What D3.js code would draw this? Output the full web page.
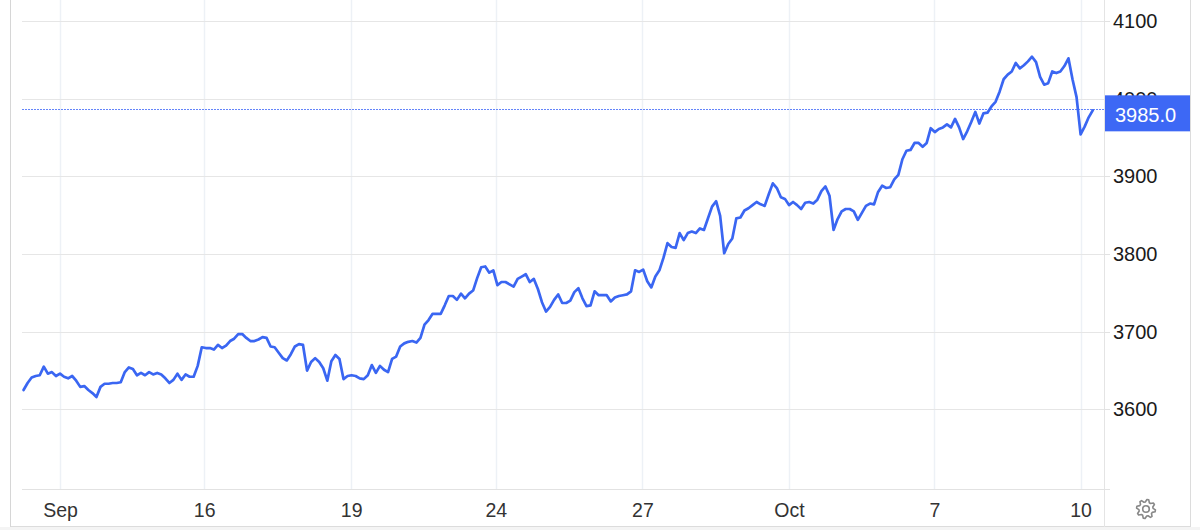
<!DOCTYPE html>
<html><head><meta charset="utf-8">
<script src="https://cdn.jsdelivr.net/npm/d3@7"></script>
<style>
html,body{margin:0;padding:0;background:#fff;}
svg{display:block;font-family:"Liberation Sans",Arial,Helvetica,sans-serif;}
</style>
</head><body>
<svg id="chart" width="1200" height="530"></svg>
<script>
// ---- data (sample index: equal-time samples, 36 per axis interval) ----
const startIndex = -9;
const prices = [
  3625,3634,3641,3643,3644,3655,3646,3648,3643,
  3646,3642,3640,3643,3637,3629,3630,3625,3621,3616,
  3629,3633,3633,3634,3634,3635,3648,3654,3652,3644,
  3647,3644,3648,3645,3647,3645,3640,3634,3638,3646,
  3638,3645,3642,3642,3656,3680,3679,3679,3677,3683,
  3679,3682,3688,3691,3697,3697,3692,3688,3688,3690,
  3693,3692,3681,3680,3673,3666,3663,3671,3681,3684,
  3683,3650,3661,3666,3661,3653,3637,3662,3670,3665,
  3639,3643,3644,3643,3640,3639,3644,3657,3647,3656,
  3651,3648,3665,3668,3681,3685,3687,3688,3686,3692,
  3709,3715,3723,3723,3723,3734,3746,3746,3741,3749,
  3743,3749,3753,3769,3783,3784,3776,3779,3760,3764,
  3764,3761,3758,3768,3771,3774,3764,3768,3755,3738,
  3726,3732,3741,3748,3737,3737,3740,3751,3756,3743,
  3733,3734,3752,3747,3747,3747,3739,3744,3746,3747,
  3748,3752,3779,3777,3780,3765,3757,3771,3779,3795,
  3814,3809,3808,3827,3818,3827,3829,3827,3833,3831,
  3846,3861,3868,3849,3801,3813,3820,3846,3847,3856,
  3859,3863,3867,3864,3862,3877,3891,3885,3873,3871,
  3863,3867,3863,3858,3866,3867,3865,3870,3881,3887,
  3875,3831,3845,3855,3858,3858,3855,3844,3853,3862,
  3865,3864,3880,3888,3885,3886,3896,3902,3922,3933,
  3934,3943,3943,3938,3943,3962,3957,3961,3963,3967,
  3963,3974,3963,3948,3958,3970,3983,3968,3981,3982,
  3990,3996,4009,4025,4031,4035,4046,4039,4043,4048,
  4054,4047,4028,4018,4020,4035,4033,4035,4042,4052,
  4025,4002,3954,3964,3976,3985
];
const tickPositions = [0, 35.6, 71.9, 107.6, 143.8, 180, 215.9, 252];
const tickLabels = ["Sep","16","19","24","27","Oct","7","10"];
const yTicks = [3600, 3700, 3800, 3900, 4000, 4100];
const lastPrice = 3985.0;

// ---- layout ----
const plotLeft = 22, axisX = 1104, plotBottom = 489, rightEdge = 1190;
const x = d3.scaleLinear().domain([0, 252]).range([60, 1080.6]);
const y = d3.scaleLinear().domain([3600, 4100]).range([409.4, 21]);
const lineColor = "#3a66f2";
const fontFam = "'Liberation Sans',Arial,sans-serif";

const svg = d3.select("#chart");
const data = prices.map((p, i) => ({i: startIndex + i, p}));

// bottom strip
svg.append("rect").attr("x", 0).attr("y", 527).attr("width", 1200).attr("height", 3).attr("fill", "#f4f4f4");
svg.append("line").attr("x1", 10).attr("x2", rightEdge).attr("y1", 526.5).attr("y2", 526.5)
  .attr("stroke", "#dcdcdc").attr("stroke-width", 1);
// frame lines
svg.append("line").attr("x1", 10.5).attr("x2", 10.5).attr("y1", 0).attr("y2", 527)
  .attr("stroke", "#d6d6d6").attr("stroke-width", 1);
svg.append("line").attr("x1", rightEdge + 0.5).attr("x2", rightEdge + 0.5).attr("y1", 0).attr("y2", 527)
  .attr("stroke", "#dcdcdc").attr("stroke-width", 1);
svg.append("line").attr("x1", axisX + 0.5).attr("x2", axisX + 0.5).attr("y1", 0).attr("y2", 527)
  .attr("stroke", "#e4e4e4").attr("stroke-width", 1);

// vertical grid
svg.append("g").selectAll("line").data(tickPositions).join("line")
  .attr("x1", d => Math.round(x(d)) + 0.5).attr("x2", d => Math.round(x(d)) + 0.5)
  .attr("y1", 0).attr("y2", plotBottom)
  .attr("stroke", "#edf1f6").attr("stroke-width", 1.5);

// horizontal grid
svg.append("g").selectAll("line").data(yTicks).join("line")
  .attr("x1", plotLeft).attr("x2", axisX)
  .attr("y1", d => Math.round(y(d)) + 0.5).attr("y2", d => Math.round(y(d)) + 0.5)
  .attr("stroke", "#e6e6e6").attr("stroke-width", 1);

// bottom axis line
svg.append("line").attr("x1", plotLeft).attr("x2", 1110).attr("y1", plotBottom + 0.5).attr("y2", plotBottom + 0.5)
  .attr("stroke", "#e2e2e2").attr("stroke-width", 1.2);

// x axis labels
const xAxis = d3.axisBottom(x).tickValues(tickPositions)
  .tickFormat((d, i) => tickLabels[i]).tickSize(0).tickPadding(14.5);
const gx = svg.append("g").attr("transform", `translate(0,${plotBottom})`).call(xAxis);
gx.select(".domain").remove();
gx.selectAll("text").attr("font-size", 19.5).attr("fill", "#333").attr("font-family", fontFam);

// y axis labels
const yAxis = d3.axisRight(y).tickValues(yTicks).tickFormat(d3.format("d")).tickSize(6).tickPadding(3);
const gy = svg.append("g").attr("transform", `translate(${axisX},0)`).call(yAxis);
gy.select(".domain").remove();
gy.selectAll(".tick line").attr("stroke", "#e2e2e2");
gy.selectAll(".tick").attr("transform", d => `translate(0,${Math.round(y(d)) + 0.5})`);
gy.selectAll("text").attr("font-size", 20).attr("fill", "#1a1a1a").attr("font-family", fontFam);

// last price dotted line
const yLast = y(lastPrice);
svg.append("line").attr("x1", plotLeft).attr("x2", axisX)
  .attr("y1", Math.round(yLast) - 0.5).attr("y2", Math.round(yLast) - 0.5)
  .attr("stroke", "#6485fa").attr("stroke-width", 1.2).attr("stroke-dasharray", "2,1");

// price line
const line = d3.line().x(d => x(d.i)).y(d => y(d.p)).curve(d3.curveLinear);
svg.append("path").datum(data).attr("d", line)
  .attr("fill", "none").attr("stroke", lineColor).attr("stroke-width", 2.7)
  .attr("stroke-linejoin", "round").attr("stroke-linecap", "round");

// price tag (covers the 4000 label as in the original)
svg.append("rect").attr("x", axisX + 1).attr("y", yLast - 15).attr("width", rightEdge - axisX - 1).attr("height", 36)
  .attr("fill", "#3d68f5");
svg.append("text").attr("x", 1115).attr("y", yLast + 12)
  .attr("font-size", 20).attr("fill", "#fff").attr("font-family", fontFam)
  .text(d3.format(".1f")(lastPrice));

// gear icon
const gc = {x: 1146, y: 509};
const pts = [];
for (let k = 0; k < 32; k++) {
  const a = (k / 32) * 2 * Math.PI - Math.PI / 2 + Math.PI / 32;
  const r = (k % 4 === 0 || k % 4 === 1) ? 9.5 : 7.1;
  pts.push([gc.x + r * Math.cos(a), gc.y + r * Math.sin(a)]);
}
svg.append("path").attr("d", d3.line().curve(d3.curveLinearClosed)(pts))
  .attr("fill", "none").attr("stroke", "#888").attr("stroke-width", 1.6).attr("stroke-linejoin", "round");
svg.append("circle").attr("cx", gc.x).attr("cy", gc.y).attr("r", 3.3)
  .attr("fill", "none").attr("stroke", "#888").attr("stroke-width", 1.6);
</script>
</body></html>
